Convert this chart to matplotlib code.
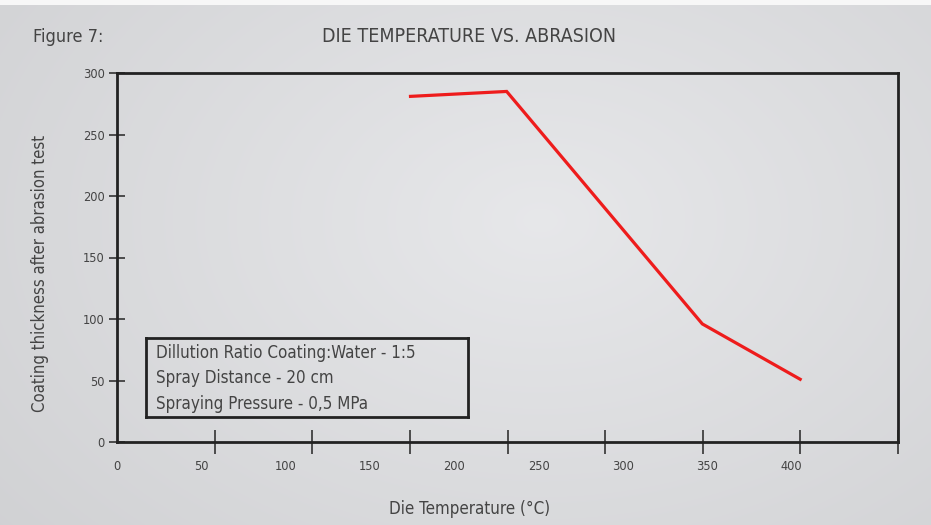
import numpy as np
import matplotlib
matplotlib.use("Agg")
import matplotlib.pyplot as plt
from matplotlib import font_manager
from matplotlib.font_manager import FontProperties

# ---- data ----
temperature = [174, 231, 347, 405]
thickness = [281, 285, 96, 51]
x_tick_labels = [0, 50, 100, 150, 200, 250, 300, 350, 400]
y_ticks = [0, 50, 100, 150, 200, 250, 300]
notes = ["Dillution Ratio Coating:Water - 1:5",
         "Spray Distance - 20 cm",
         "Spraying Pressure - 0,5 MPa"]
title = "DIE TEMPERATURE VS. ABRASION"
fig_label = "Figure 7:"
x_label = "Die Temperature (°C)"
y_label = "Coating thickness after abrasion test"

# ---- pick a narrow font if available ----
font_path = None
files = [f.fname for f in font_manager.fontManager.ttflist]
prefs = ["LiberationSansNarrow-Regular", "OpenSans_Condensed-Regular", "OpenSansCondensed",
         "DejaVuSansCondensed.ttf", "Roboto_Condensed-Regular", "RobotoCondensed-Regular"]
for p in prefs:
    for f in files:
        if p.lower() in f.lower().replace(" ", ""):
            font_path = f
            break
    if font_path:
        break
if font_path is None:
    for f in files:
        fl = f.lower()
        if ("narrow" in fl or "condensed" in fl) and "bold" not in fl and "italic" not in fl \
                and "oblique" not in fl and "light" not in fl and "mono" not in fl:
            font_path = f
            break

def fp(size):
    if font_path:
        return FontProperties(fname=font_path, size=size)
    return FontProperties(family=['Open Sans', 'DejaVu Sans'], size=size)

W, H = 931, 525
fig = plt.figure(figsize=(W / 100, H / 100), dpi=100)
TXT = '#444444'

# background gradient
bg = fig.add_axes([0, 0, 1, 1], zorder=-10)
yy, xx = np.mgrid[0:H, 0:W]
d = np.sqrt(((xx - 540) / 650.0) ** 2 + ((yy - 220) / 450.0) ** 2)
val = 0.905 - 0.08 * np.clip(d, 0, 1.2)
img = np.dstack([val, val + 0.003, val + 0.012])
img = np.clip(img, 0, 1)
img[:5, :, :] = 0.97
bg.imshow(img, extent=[0, 1, 0, 1], aspect='auto', origin='upper')
bg.axis('off')

xmax = 463.0
ax = fig.add_axes([117 / W, 1 - 442 / H, (898 - 117) / W, (442 - 73) / H])
ax.set_facecolor('none')
ax.plot(temperature, thickness, color='#ee1c1c', lw=2.3, solid_joinstyle='miter')
ax.set_xlim(0, xmax)
ax.set_ylim(0, 300)

for s in ax.spines.values():
    s.set_color('#222222')
    s.set_linewidth(2.0)

ax.set_yticks(y_ticks)
ax.set_yticklabels([str(v) for v in y_ticks])
ax.tick_params(axis='y', direction='inout', length=12, width=1.2, color='#333333',
               labelcolor=TXT, pad=3)
ax.set_xticks(x_tick_labels)
ax.set_xticklabels([str(v) for v in x_tick_labels])
ax.tick_params(axis='x', which='major', length=0, labelcolor=TXT, pad=13)
ax.set_xticks(np.linspace(0, xmax, 9), minor=True)
ax.tick_params(axis='x', which='minor', direction='inout', length=17, width=1.2,
               color='#333333')

t_title = fig.text(469 / W, 1 - 37 / H, title, color=TXT, ha='center', va='center',
                   fontproperties=fp(15))
t_fig = fig.text(33 / W, 1 - 37 / H, fig_label, color=TXT, ha='left', va='center',
                 fontproperties=fp(13))
t_xl = fig.text(470 / W, 1 - 509 / H, x_label, color=TXT, ha='center', va='center',
                fontproperties=fp(12))
t_yl = fig.text(40 / W, 1 - 273 / H, y_label, color=TXT, ha='center', va='center',
                rotation=90, fontproperties=fp(12))

# note box
box = fig.add_axes([146 / W, 1 - 417 / H, (468 - 146) / W, (417 - 338) / H])
box.set_xticks([]); box.set_yticks([])
box.set_facecolor('none')
for s in box.spines.values():
    s.set_color('#222222'); s.set_linewidth(2.0)
note_y = [353, 378, 404]
note_txt = []
for t, yv in zip(notes, note_y):
    note_txt.append(fig.text(156 / W, 1 - yv / H, t, color=TXT, ha='left', va='center',
                             fontproperties=fp(12)))

# fit font sizes to measured widths of the reference
fig.canvas.draw()
r = fig.canvas.get_renderer()

def fit(t, target, vertical=False):
    bb = t.get_window_extent(renderer=r)
    cur = bb.height if vertical else bb.width
    s = t.get_fontsize() * target / cur
    t.set_fontsize(s)
    return s

fit(t_title, 294)
fit(t_fig, 70)
fit(t_xl, 161)
fit(t_yl, 277, vertical=True)
ns = fit(note_txt[0], 259)
for t in note_txt[1:]:
    t.set_fontsize(ns)

lab = ax.get_xticklabels()[8]
lab.set_fontproperties(fp(10))
fig.canvas.draw()
bb = lab.get_window_extent(renderer=r)
tsize = 10 * 22 / bb.width
for l in ax.get_xticklabels() + ax.get_yticklabels():
    l.set_fontproperties(fp(tsize))

fig.savefig("out.png", dpi=100)
